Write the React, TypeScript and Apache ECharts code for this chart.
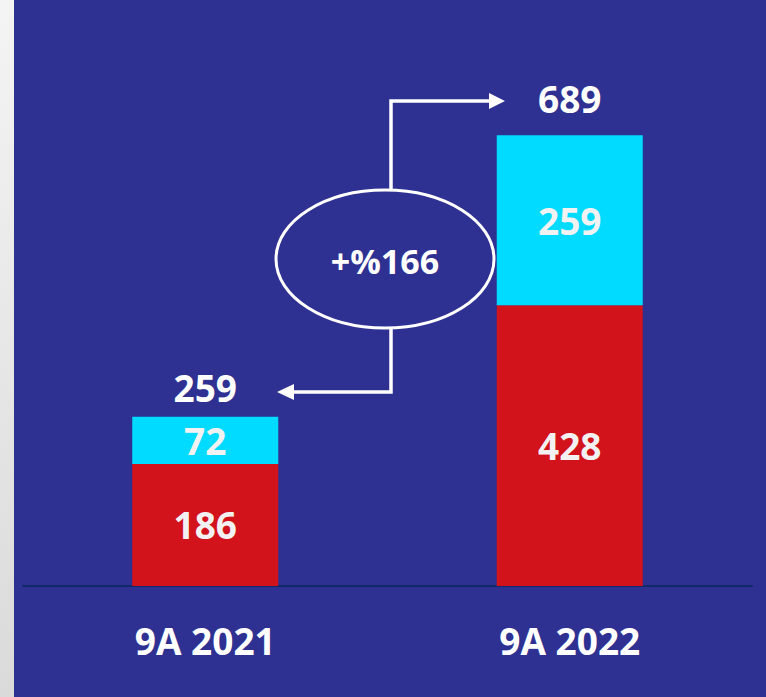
import React, { useEffect, useRef } from "react";
import * as echarts from "echarts";

const categories = ["9A 2021", "9A 2022"];
const redValues = [186, 428];
const cyanValues = [72, 259];
const totals = [259, 689];
const totalLabelGaps = [10, 16];
const growthText = "+%166";

const FONT = "'Open Sans', 'Noto Sans', sans-serif";

export default function App() {
  const ref = useRef<HTMLDivElement>(null);
  useEffect(() => {
    document.body.style.margin = "0";
    const chart = echarts.init(ref.current!, null, { renderer: "svg" });
    chart.setOption({
      animation: false,
      backgroundColor: "#2E3192",
      grid: { left: 23, right: 14, top: 61, bottom: 111 },
      xAxis: {
        type: "category",
        data: categories,
        axisLine: { show: true, lineStyle: { color: "#0E2A6A", width: 2 } },
        axisTick: { show: false },
        axisLabel: {
          color: "#FFFFFF",
          fontFamily: FONT,
          fontWeight: "bold",
          fontSize: 37,
          margin: 36,
        },
      },
      yAxis: {
        type: "value",
        min: 0,
        max: 800,
        show: false,
        splitLine: { show: false },
      },
      series: [
        {
          type: "bar",
          stack: "t",
          barWidth: 146,
          data: redValues,
          itemStyle: { color: "#D3131C" },
          label: {
            show: true,
            position: "inside",
            color: "#F2F2F2",
            fontFamily: FONT,
            fontWeight: "bold",
            fontSize: 37,
          },
        },
        {
          type: "bar",
          stack: "t",
          barWidth: 146,
          data: cyanValues,
          itemStyle: { color: "#00DBFF" },
          label: {
            show: true,
            position: "inside",
            color: "#F2F2F2",
            fontFamily: FONT,
            fontWeight: "bold",
            fontSize: 37,
          },
        },
        {
          type: "scatter",
          symbolSize: 1,
          itemStyle: { color: "rgba(0,0,0,0)", opacity: 1 },
          data: totals.map((v, i) => ({
            value: v,
            label: { distance: totalLabelGaps[i] },
          })),
          label: {
            show: true,
            position: "top",
            color: "#FFFFFF",
            opacity: 1,
            fontFamily: FONT,
            fontWeight: "bold",
            fontSize: 37,
          },
          z: 5,
        },
      ],
      graphic: [
        {
          type: "rect",
          shape: { x: 0, y: 0, width: 14, height: 697 },
          style: {
            fill: new echarts.graphic.LinearGradient(0, 0, 0, 1, [
              { offset: 0, color: "#F4F4F4" },
              { offset: 1, color: "#DADADA" },
            ]),
          },
          z: 10,
        },
        {
          type: "ellipse",
          shape: { cx: 385, cy: 259, rx: 109, ry: 69 },
          style: { fill: "none", stroke: "#FFFFFF", lineWidth: 3 },
          z: 10,
        },
        {
          type: "text",
          x: 385,
          y: 261,
          style: {
            text: growthText,
            fill: "#FFFFFF",
            font: `bold 34px ${FONT}`,
            align: "center",
            verticalAlign: "middle",
          },
          z: 10,
        },
        {
          type: "polyline",
          shape: { points: [[391, 190], [391, 101], [491, 101]] },
          style: { fill: "none", stroke: "#FFFFFF", lineWidth: 3.5 },
          z: 10,
        },
        {
          type: "polygon",
          shape: { points: [[489, 93], [505, 101], [489, 109]] },
          style: { fill: "#FFFFFF" },
          z: 10,
        },
        {
          type: "polyline",
          shape: { points: [[391, 328], [391, 392], [292, 392]] },
          style: { fill: "none", stroke: "#FFFFFF", lineWidth: 3.5 },
          z: 10,
        },
        {
          type: "polygon",
          shape: { points: [[294, 384], [277, 392], [294, 400]] },
          style: { fill: "#FFFFFF" },
          z: 10,
        },
      ],
    });
    return () => chart.dispose();
  }, []);
  return (
    <div
      ref={ref}
      style={{ position: "fixed", left: 0, top: 0, width: 766, height: 697 }}
    />
  );
}
